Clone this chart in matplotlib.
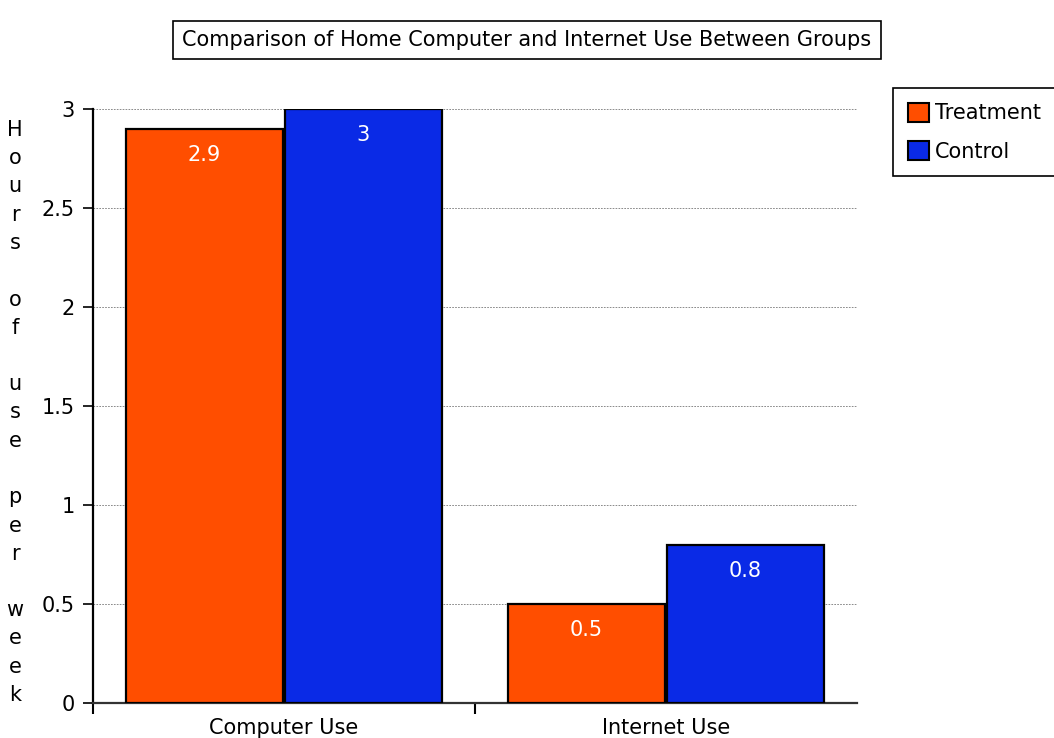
import matplotlib
matplotlib.use("Agg")
import matplotlib.pyplot as plt
import numpy as np
from matplotlib.patches import Patch

categories = ["Computer Use", "Internet Use"]
series_names = ["Treatment", "Control"]
treatment = [2.9, 0.5]
control = [3.0, 0.8]
value_labels_t = ["2.9", "0.5"]
value_labels_c = ["3", "0.8"]
yticks = [0, 0.5, 1, 1.5, 2, 2.5, 3]
ytick_labels = ["0", "0.5", "1", "1.5", "2", "2.5", "3"]
title = "Comparison of Home Computer and Internet Use Between Groups"
ylabel = "Hours of use per week"

c_orange = "#FF4E00"
c_blue = "#0A2AE6"
FS = 15

plt.rcParams["font.family"] = ["DejaVu Sans"]
W, H = 1054, 738
fig = plt.figure(figsize=(W / 100, H / 100), dpi=100)
ax = fig.add_axes([93 / W, 1 - 703 / H, (857 - 93) / W, (703 - 109) / H])

x = np.arange(len(categories))
bw = 0.41
off = 0.208
b1 = ax.bar(x - off, treatment, bw, color=c_orange, edgecolor="black", linewidth=1.6, zorder=3)
b2 = ax.bar(x + off, control, bw, color=c_blue, edgecolor="black", linewidth=1.6, zorder=3)

for bars, labs in ((b1, value_labels_t), (b2, value_labels_c)):
    for r, lab in zip(bars, labs):
        ax.annotate(lab, (r.get_x() + r.get_width() / 2, r.get_height()),
                    xytext=(0, -26), textcoords="offset pixels",
                    ha="center", va="center", color="white", fontsize=FS, zorder=4)

ax.set_xlim(-0.5, 1.5)
ax.set_ylim(0, 3)
ax.set_yticks(yticks)
ax.set_yticklabels(ytick_labels, fontsize=FS)
ax.yaxis.grid(True, linestyle=(0, (2, 1.5)), color="#777777", linewidth=0.6, zorder=0)
ax.set_xticks([-0.5, 0.5])
ax.set_xticklabels(["", ""])
ax.set_xticks(x, minor=True)
ax.set_xticklabels(categories, minor=True, fontsize=FS)
ax.tick_params(axis="x", which="minor", length=0, pad=11)
ax.tick_params(axis="x", which="major", length=8, width=1.5, direction="out")
ax.tick_params(axis="y", length=7, width=1.2, direction="out", pad=6)
for s in ("top", "right"):
    ax.spines[s].set_visible(False)
ax.spines["left"].set_linewidth(1.6)
ax.spines["bottom"].set_linewidth(1.6)
ax.spines["bottom"].set_color("#333333")

# vertical stacked y label
chars = list(ylabel)
y0, y1 = 130, 695
for i, ch in enumerate(chars):
    if ch == " ":
        continue
    yy = y0 + (y1 - y0) * i / (len(chars) - 1)
    fig.text(15 / W, 1 - yy / H, ch, ha="center", va="center", fontsize=FS)

fig.text(527 / W, 1 - 40 / H, title, ha="center", va="center", fontsize=FS,
         bbox=dict(boxstyle="square,pad=0.45", facecolor="white", edgecolor="black", linewidth=1.2))

handles = [Patch(facecolor=c_orange, edgecolor="black", linewidth=1.5),
           Patch(facecolor=c_blue, edgecolor="black", linewidth=1.5)]
leg = fig.legend(handles, series_names, loc="upper left", bbox_to_anchor=(893 / W, 1 - 88 / H),
                 fontsize=FS, fancybox=False, edgecolor="black", framealpha=1,
                 handlelength=1.05, handleheight=1.05, handletextpad=0.25, borderpad=0.7,
                 labelspacing=0.85, borderaxespad=0)
leg.get_frame().set_linewidth(1.2)

fig.savefig("out.png", dpi=100)
